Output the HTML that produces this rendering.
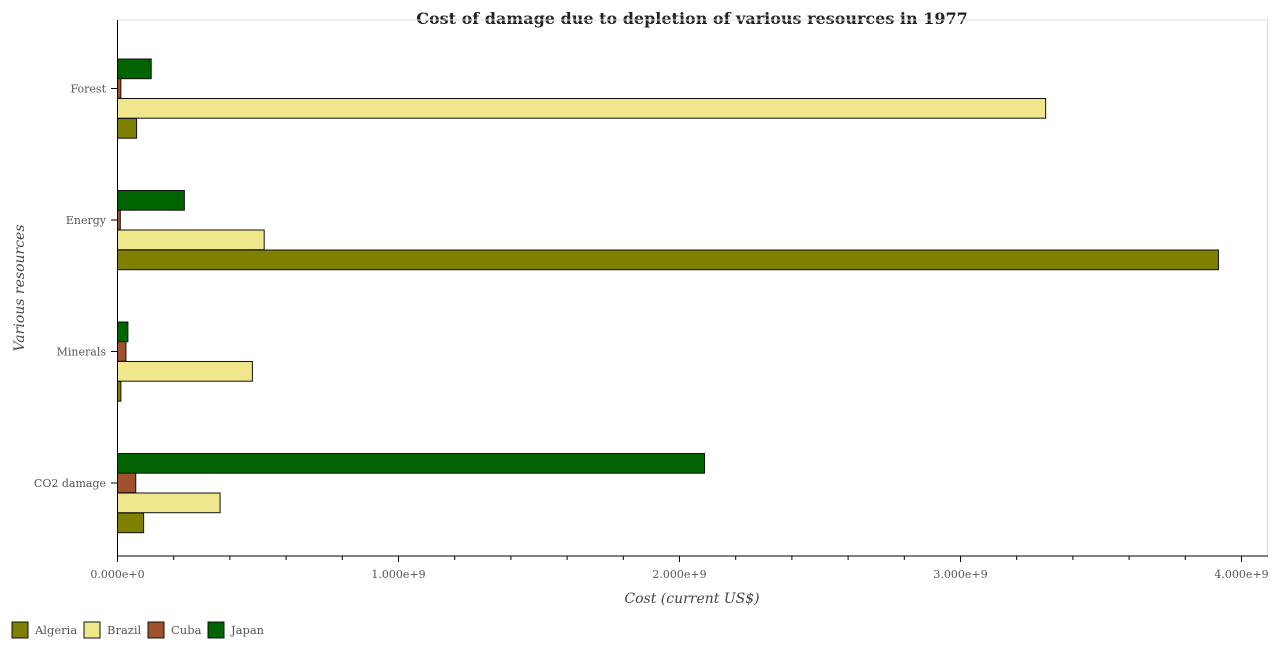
<!DOCTYPE html>
<html><head><meta charset="utf-8"><style>
body{margin:0;background:#fff;font-family:"DejaVu Serif","Liberation Serif",serif;}
</style></head><body>
<svg width="1279" height="650" font-family="DejaVu Serif, Liberation Serif, serif">
<text x="692" y="24" text-anchor="middle" font-size="16" font-weight="bold" fill="#222">Cost of damage due to depletion of various resources in 1977</text>
<rect x="117.5" y="20" width="1150" height="536" fill="none" stroke="#ddd"/>
<g id="bars"></g>
<g id="axes"></g>
<text x="692" y="603" text-anchor="middle" font-size="14" font-style="italic" fill="#444">Cost (current US$)</text>
<text transform="translate(24,288) rotate(-90)" text-anchor="middle" font-size="14" font-style="italic" fill="#444">Various resources</text>
<g id="legend"></g>
</svg>
<script>
const categories=["CO2 damage","Minerals","Energy","Forest"];
const seriesNames=["Algeria","Brazil","Cuba","Japan"];
const algeria=[0.093e9,0.012e9,3.918e9,0.068e9];
const brazil=[0.365e9,0.48e9,0.522e9,3.303e9];
const cuba=[0.065e9,0.03e9,0.01e9,0.012e9];
const japan=[2.089e9,0.037e9,0.238e9,0.12e9];
const xTicks=[0,1e9,2e9,3e9,4e9];
const xTickLabels=["0.000e+0","1.000e+9","2.000e+9","3.000e+9","4.000e+9"];
const colors=["#808000","#f0e68c","#a0522d","#006400"];
const NS="http://www.w3.org/2000/svg";
const x0=117.5,pxPer=281e-9;
const xs=v=>x0+v*pxPer;
const yc=i=>483-i*131.5;
const offs=[30,10,-10,-29.5];
const bh=19.7;
const bars=document.getElementById('bars');
const data=[algeria,brazil,cuba,japan];
function mk(t,a){const e=document.createElementNS(NS,t);for(const k in a)e.setAttribute(k,a[k]);return e;}
data.forEach((arr,s)=>{arr.forEach((v,i)=>{
 const r=mk('rect',{x:x0,y:yc(i)+offs[s],width:Math.max(xs(v)-x0,1),height:bh,fill:colors[s],stroke:'#111','stroke-width':1});
 
 
 bars.appendChild(r);
});});
const ax=document.getElementById('axes');
const yl=mk('line',{x1:x0,y1:20,x2:x0,y2:556,stroke:'#000'});


ax.appendChild(yl);
const xl=mk('line',{x1:x0,y1:556,x2:1268,y2:556,stroke:'#000'});


ax.appendChild(xl);
for(let v=0;v<=4.05e9;v+=0.2e9){const big=Math.abs(v/1e9-Math.round(v/1e9))<1e-6;
 const t=mk('line',{x1:xs(v),y1:556,x2:xs(v),y2:big?562:560,stroke:'#000'});
 
 
 ax.appendChild(t);}
xTicks.forEach((v,i)=>{const t=mk('text',{x:xs(v),y:578,'text-anchor':'middle','font-size':11,fill:'#555'});t.textContent=xTickLabels[i];
 
 
 ax.appendChild(t);});
categories.forEach((c,i)=>{const t=mk('text',{x:106,y:yc(i)+4,'text-anchor':'end','font-size':11,fill:'#555'});t.textContent=c;
 
 
 ax.appendChild(t);
 const l=mk('line',{x1:111,y1:yc(i),x2:x0,y2:yc(i),stroke:'#000'});
 
 
 ax.appendChild(l);});
const lg=document.getElementById('legend');
const lx=[12,84,148,208];
seriesNames.forEach((n,s)=>{
 const r=mk('rect',{x:lx[s],y:622,width:16,height:16,fill:colors[s],stroke:'#111'});
 
 
 lg.appendChild(r);
 const t=mk('text',{x:lx[s]+23,y:634,'font-size':11.5,fill:'#555'});t.textContent=n;
 
 
 lg.appendChild(t);});
</script>
</body></html>
